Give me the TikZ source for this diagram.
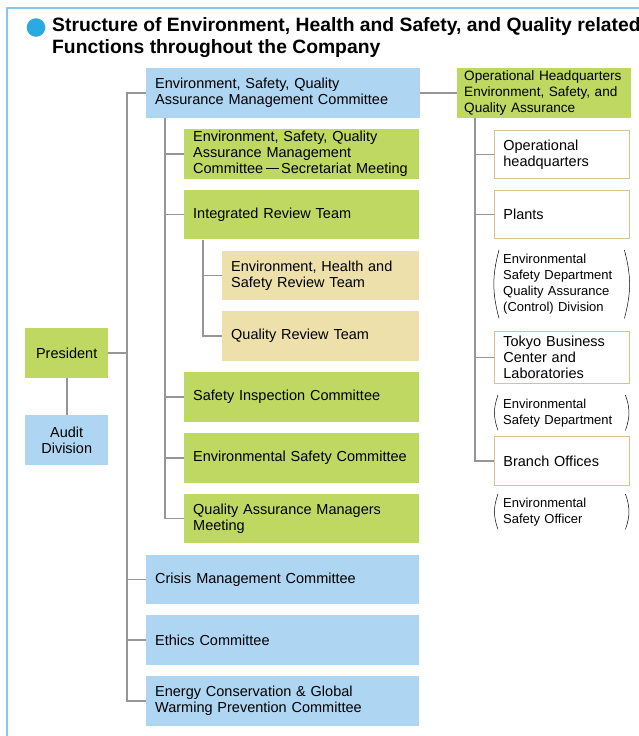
\documentclass[tikz,border=0pt]{standalone}
\usepackage{fontspec}
\setmainfont{Liberation Sans}
\definecolor{skyfill}{RGB}{174,213,242}
\definecolor{leaffill}{RGB}{190,216,98}
\definecolor{sandfill}{RGB}{237,224,170}
\definecolor{tanline}{RGB}{214,196,140}
\definecolor{linegray}{RGB}{150,150,150}
\definecolor{framecol}{RGB}{130,200,240}
\definecolor{dotblue}{RGB}{41,171,226}
\begin{document}
\begin{tikzpicture}[x=1pt, y=-1pt,
    conn/.style={draw=linegray, line width=1.6pt},
    unit/.style={anchor=north west, minimum height=49.5pt, inner xsep=9pt, inner ysep=0pt,
      align=left, font=\fontsize{14.5}{16}\selectfont},
    bluebox/.style={unit, fill=skyfill},
    greenbox/.style={unit, fill=leaffill},
    sandbox/.style={unit, fill=sandfill},
    sitebox/.style={unit, draw=tanline, line width=0.8pt, fill=white},
    parenbox/.style={anchor=north west, inner xsep=9pt, inner ysep=0pt, align=left,
      text width=117pt, font=\fontsize{13}{16}\selectfont},
    paren/.style={draw=black, line width=0.5pt}]
    \useasboundingbox (0,0) rectangle (638,736);
    \draw [framecol, line width=1.2pt] (640,8) -- (7,8) -- (7,736);
    \fill [dotblue] (36,27.5) circle (9.3);
    \node [anchor=west, inner sep=0pt, align=left, font=\fontsize{19.3}{22}\selectfont\bfseries] (title) at (52,38)
        {Structure of Environment, Health and Safety, and Quality related\\Functions throughout the Company};
    \node [bluebox, text width=256pt] (esqmc) at (146,68) {Environment, Safety, Quality\\Assurance Management Committee};
    \node [greenbox, inner xsep=7pt, text width=160pt, minimum height=50pt, font=\fontsize{13.6}{16}\selectfont] (ophq) at (457,68) {Operational Headquarters\\Environment, Safety, and\\Quality Assurance};
    \node [greenbox, text width=217pt] (secmeet) at (184,128.8) {Environment, Safety, Quality\\Assurance Management\\Committee\,\rule[0.35em]{0.9em}{0.8pt}\,Secretariat Meeting};
    \node [greenbox, text width=217pt] (irt) at (184,189.6) {Integrated Review Team};
    \node [sandbox, text width=179pt] (ehsrt) at (222,250.4) {Environment, Health and\\Safety Review Team};
    \node [sandbox, text width=179pt] (qrt) at (222,311.2) {Quality Review Team};
    \node [greenbox, text width=217pt] (sic) at (184,372) {Safety Inspection Committee};
    \node [greenbox, text width=217pt] (esc) at (184,432.8) {Environmental Safety Committee};
    \node [greenbox, text width=217pt] (qamm) at (184,493.6) {Quality Assurance Managers\\Meeting};
    \node [bluebox, text width=255pt] (cmc) at (146,554.4) {Crisis Management Committee};
    \node [bluebox, text width=255pt] (ethics) at (146,615.2) {Ethics Committee};
    \node [bluebox, text width=255pt] (energy) at (146,676) {Energy Conservation \& Global\\Warming Prevention Committee};
    \node [greenbox, text width=65pt, align=center] (pres) at (25,328) {President};
    \node [bluebox, text width=65pt, align=center] (audit) at (25,415) {Audit\\Division};
    \node [sitebox, text width=117pt, minimum height=48pt] (hqbox) at (494,130) {Operational\\headquarters};
    \node [sitebox, text width=117pt, minimum height=48pt] (plants) at (494,190) {Plants};
    \node [parenbox, minimum height=68pt] (par1) at (494,250) {Environmental\\Safety Department\\Quality Assurance\\(Control) Division};
    \node [sitebox, text width=117pt, minimum height=52pt] (tokyo) at (494,331) {Tokyo Business\\Center and\\Laboratories};
    \node [parenbox, minimum height=35pt] (par2) at (494,395) {Environmental\\Safety Department};
    \node [sitebox, text width=117pt, minimum height=49pt] (branch) at (494,436) {Branch Offices};
    \node [parenbox, minimum height=35pt] (par3) at (494,494) {Environmental\\Safety Officer};
    \coordinate (t1) at (127,0);
    \coordinate (t2) at (165,0);
    \coordinate (t3) at (203,0);
    \coordinate (t4) at (475,0);
    \draw [conn] (esqmc.west) -- (esqmc.west -| t1) |- (energy.west);
    \draw [conn] (pres.east) -- (pres.east -| t1);
    \draw [conn] (cmc.west) -- (cmc.west -| t1);
    \draw [conn] (ethics.west) -- (ethics.west -| t1);
    \draw [conn] (pres.south) -- (audit.north);
    \draw [conn] (esqmc.south -| t2) |- (qamm.west);
    \draw [conn] (secmeet.west) -- (secmeet.west -| t2);
    \draw [conn] (irt.west) -- (irt.west -| t2);
    \draw [conn] (sic.west) -- (sic.west -| t2);
    \draw [conn] (esc.west) -- (esc.west -| t2);
    \draw [conn] (irt.south -| t3) |- (qrt.west);
    \draw [conn] (ehsrt.west) -- (ehsrt.west -| t3);
    \draw [conn] (esqmc.east) -- (esqmc.east -| ophq.west);
    \draw [conn] (ophq.south -| t4) |- (branch.west);
    \draw [conn] (hqbox.west) -- (hqbox.west -| t4);
    \draw [conn] (plants.west) -- (plants.west -| t4);
    \draw [conn] (tokyo.west) -- (tokyo.west -| t4);
    \draw [paren] ([xshift=5pt]par1.north west) to[bend right=15] ([xshift=5pt]par1.south west);
    \draw [paren] ([xshift=-5pt]par1.north east) to[bend left=15] ([xshift=-5pt]par1.south east);
    \draw [paren] ([xshift=4pt]par2.north west) to[bend right=20] ([xshift=4pt]par2.south west);
    \draw [paren] ([xshift=-4pt]par2.north east) to[bend left=20] ([xshift=-4pt]par2.south east);
    \draw [paren] ([xshift=4pt]par3.north west) to[bend right=20] ([xshift=4pt]par3.south west);
    \draw [paren] ([xshift=-4pt]par3.north east) to[bend left=20] ([xshift=-4pt]par3.south east);
\end{tikzpicture}
\end{document}
